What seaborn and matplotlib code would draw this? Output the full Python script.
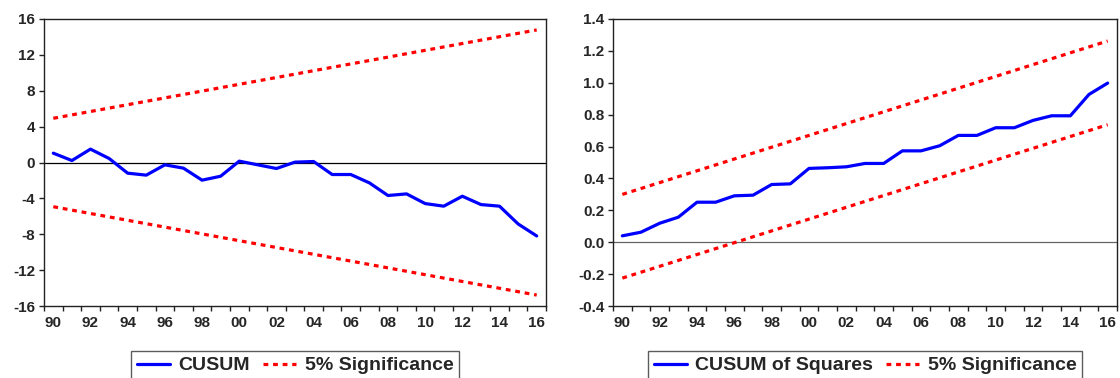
import numpy as np
import pandas as pd
import seaborn as sns
import matplotlib.pyplot as plt
from matplotlib.lines import Line2D
from matplotlib.ticker import MultipleLocator, FixedLocator

# data
years = list(range(1990, 2017))
cusum = [1.04, 0.22, 1.49, 0.45, -1.19, -1.41, -0.26, -0.63, -1.97, -1.53,
         0.15, -0.26, -0.67, 0.04, 0.11, -1.34, -1.34, -2.27, -3.68, -3.50,
         -4.58, -4.87, -3.76, -4.69, -4.87, -6.85, -8.19]
cusum_sq = [0.040, 0.063, 0.119, 0.157, 0.251, 0.251, 0.291, 0.295, 0.362, 0.366,
            0.463, 0.467, 0.473, 0.494, 0.494, 0.573, 0.573, 0.605, 0.670, 0.670,
            0.718, 0.718, 0.764, 0.793, 0.793, 0.927, 0.998]
bound_years = [1990, 2016]
cusum_upper = [4.93, 14.78]
cusum_lower = [-4.93, -14.78]
sq_upper = [0.30, 1.262]
sq_lower = [-0.225, 0.737]

sns.set_theme(style="white")
plt.rcParams['font.family'] = ['Liberation Sans', 'DejaVu Sans']
plt.rcParams['axes.unicode_minus'] = False

fig = plt.figure(figsize=(11.2, 3.78), dpi=100)
ax1 = fig.add_axes([44/1120, 1 - 306/378, 502/1120, 287/378])
ax2 = fig.add_axes([613/1120, 1 - 306/378, 504/1120, 287/378])

blue = "#0000ff"
red = "#ff0000"
dot = (1.5, 1.5)
font = dict(family='Liberation Sans', weight='bold')


def draw(ax, series, upper, lower, zero_color):
    ax.axhline(0, color=zero_color, lw=0.9, zorder=1)
    sns.lineplot(x=years, y=series, ax=ax, color=blue, lw=2.3, zorder=3)
    for b in (upper, lower):
        sns.lineplot(x=bound_years, y=b, ax=ax, color=red, lw=2.3,
                     dashes=False, zorder=2).lines[-1].set_dashes(dot)
    ax.set_xlim(1989.5, 2016.5)
    ax.xaxis.set_major_locator(FixedLocator(years[::2]))
    ax.xaxis.set_minor_locator(FixedLocator(np.arange(1989.5, 2017, 1)))
    ax.tick_params(axis='x', which='major', length=0, pad=7.5)
    ax.tick_params(axis='x', which='minor', length=3.8, width=1, direction='out',
                   color='#222222', bottom=True)
    ax.tick_params(axis='y', which='major', length=3.8, width=1, direction='out',
                   color='#222222', left=True, pad=2.5)
    for s in ax.spines.values():
        s.set_color('#222222')
        s.set_linewidth(1.0)
    ax.set_xlabel("")
    ax.set_ylabel("")


draw(ax1, cusum, cusum_upper, cusum_lower, 'black')
ax1.set_ylim(-16, 16)
ax1.set_yticks(np.arange(-16, 17, 4))
ax1.set_yticklabels(["%d" % v for v in np.arange(-16, 17, 4)], fontsize=11, **font)

draw(ax2, cusum_sq, sq_upper, sq_lower, '#666666')
ax2.set_ylim(-0.4, 1.4)
sq_ticks = np.round(np.arange(-0.4, 1.41, 0.2), 1)
ax2.set_yticks(sq_ticks)
ax2.set_yticklabels(["%.1f" % v for v in sq_ticks], fontsize=11, **font)

for ax in (ax1, ax2):
    ax.set_xticks(years[::2])
    ax.set_xticklabels(["%02d" % (y % 100) for y in years[::2]], fontsize=11, **font)

for ax, name in ((ax1, "CUSUM"), (ax2, "CUSUM of Squares")):
    handles = [Line2D([], [], color=blue, lw=2.3),
               Line2D([], [], color=red, lw=2.3, dashes=dot)]
    leg = ax.legend(handles, [name, "5% Significance"], loc='upper center',
                    bbox_to_anchor=(0.5, -(351 - 306) / 287), ncol=2,
                    frameon=True, fancybox=False, edgecolor='#333333',
                    prop=dict(size=14, **font), handlelength=1.7,
                    columnspacing=0.65, handletextpad=0.45, borderpad=0.3,
                    borderaxespad=0)
    leg.get_frame().set_linewidth(1.0)

fig.savefig("out.png", dpi=100)
